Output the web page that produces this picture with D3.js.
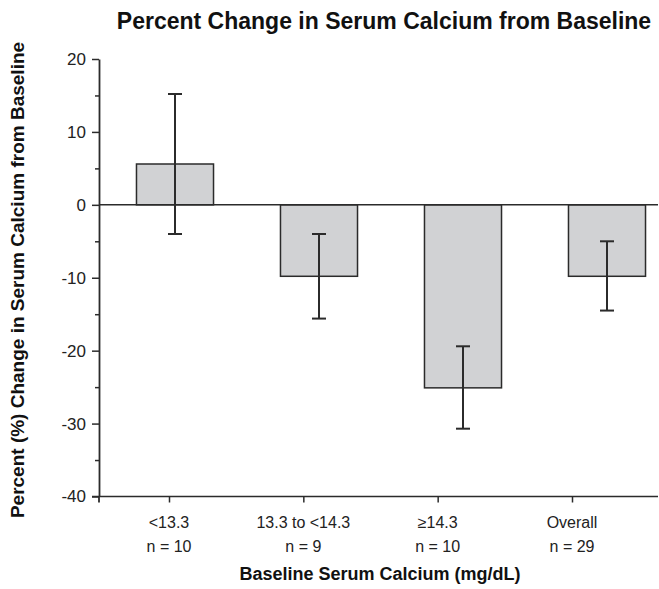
<!DOCTYPE html>
<html>
<head>
<meta charset="utf-8">
<script src="https://cdn.jsdelivr.net/npm/d3@7"></script>
<style>
  html, body { margin: 0; padding: 0; background: #fff; }
  svg { display: block; font-family: "Liberation Sans", Arial, sans-serif; }
</style>
</head>
<body>
<svg id="chart" width="659" height="589"></svg>
<script>
const categories = ["<13.3", "13.3 to <14.3", "≥14.3", "Overall"];
const nLabels = ["n = 10", "n = 9", "n = 10", "n = 29"];
const means = [5.6, -9.8, -25.1, -9.8];
const errHigh = [15.2, -4.0, -19.4, -5.0];
const errLow = [-4.0, -15.6, -30.7, -14.5];
const yTicks = [20, 10, 0, -10, -20, -30, -40];
const yMinorTicks = [15, 5, -5, -15, -25, -35];

const svg = d3.select("#chart");
const axisX = 99, rightEdge = 658;
const y = d3.scaleLinear().domain([-40, 20]).range([496.5, 59]);
const xBar = d3.scaleBand().domain(categories).range([103, 679]).paddingInner(0.465).paddingOuter(0.2325);
const xLab = d3.scalePoint().domain(categories).range([169, 572]);
const dark = "#2b2b2b";
const ff = "Liberation Sans, Arial, sans-serif";

// title
svg.append("text").attr("x", 384).attr("y", 29).attr("text-anchor", "middle")
  .attr("font-weight", "bold").attr("font-size", 23).attr("fill", "#111")
  .text("Percent Change in Serum Calcium from Baseline");

// y axis title
svg.append("text").attr("transform", "translate(24,280) rotate(-90)")
  .attr("text-anchor", "middle").attr("font-weight", "bold").attr("font-size", 19).attr("fill", "#111")
  .text("Percent (%) Change in Serum Calcium from Baseline");

// x axis title
svg.append("text").attr("x", 380).attr("y", 580).attr("text-anchor", "middle")
  .attr("font-weight", "bold").attr("font-size", 18).attr("fill", "#111")
  .text("Baseline Serum Calcium (mg/dL)");

// bars
svg.selectAll("rect.bar").data(categories).enter().append("rect")
  .attr("class", "bar")
  .attr("x", d => xBar(d))
  .attr("width", xBar.bandwidth())
  .attr("y", (d, i) => y(Math.max(0, means[i])))
  .attr("height", (d, i) => Math.abs(y(means[i]) - y(0)))
  .attr("fill", "#d1d2d4").attr("stroke", dark).attr("stroke-width", 1.5);

// zero line
svg.append("line").attr("x1", axisX).attr("x2", rightEdge).attr("y1", y(0)).attr("y2", y(0))
  .attr("stroke", dark).attr("stroke-width", 1.5);

// error bars
const eb = svg.append("g").attr("stroke", dark).attr("stroke-width", 2);
categories.forEach((c, i) => {
  const cx = xBar(c) + xBar.bandwidth() / 2;
  eb.append("line").attr("x1", cx).attr("x2", cx).attr("y1", y(errHigh[i])).attr("y2", y(errLow[i]));
  eb.append("line").attr("x1", cx - 7).attr("x2", cx + 7).attr("y1", y(errHigh[i])).attr("y2", y(errHigh[i]));
  eb.append("line").attr("x1", cx - 7).attr("x2", cx + 7).attr("y1", y(errLow[i])).attr("y2", y(errLow[i]));
});

// y axis
const yAxis = svg.append("g").attr("transform", `translate(${axisX},0)`)
  .call(d3.axisLeft(y).tickValues(yTicks).tickSize(7).tickSizeOuter(0).tickPadding(6).tickFormat(d => String(d)));
yAxis.select(".domain").attr("stroke", dark).attr("stroke-width", 1.8);
yAxis.selectAll(".tick line").attr("stroke", dark).attr("stroke-width", 1.5);
yAxis.selectAll(".tick text").attr("font-size", 17).attr("fill", "#222").attr("font-family", ff);
const yMinor = svg.append("g").attr("transform", `translate(${axisX},0)`)
  .call(d3.axisLeft(y).tickValues(yMinorTicks).tickSize(4).tickSizeOuter(0).tickFormat(""));
yMinor.select(".domain").remove();
yMinor.selectAll(".tick line").attr("stroke", dark).attr("stroke-width", 1.5);

// x axis
svg.append("line").attr("x1", axisX - 7).attr("x2", rightEdge).attr("y1", y(-40)).attr("y2", y(-40))
  .attr("stroke", dark).attr("stroke-width", 1.5);
const xAxis = svg.append("g").attr("transform", `translate(0,${y(-40)})`)
  .call(d3.axisBottom(xLab).tickSize(6).tickSizeOuter(0).tickFormat(""));
xAxis.select(".domain").remove();
xAxis.selectAll(".tick line").attr("stroke", dark).attr("stroke-width", 1.5);
svg.append("line").attr("x1", axisX).attr("x2", axisX).attr("y1", y(-40)).attr("y2", y(-40) + 6)
  .attr("stroke", dark).attr("stroke-width", 1.8);

// category labels
categories.forEach((c, i) => {
  svg.append("text").attr("x", xLab(c)).attr("y", 528).attr("text-anchor", "middle")
    .attr("font-size", 16).attr("fill", "#222").text(c);
  svg.append("text").attr("x", xLab(c)).attr("y", 552).attr("text-anchor", "middle")
    .attr("font-size", 16).attr("fill", "#222").text(nLabels[i]);
});
</script>
</body>
</html>
